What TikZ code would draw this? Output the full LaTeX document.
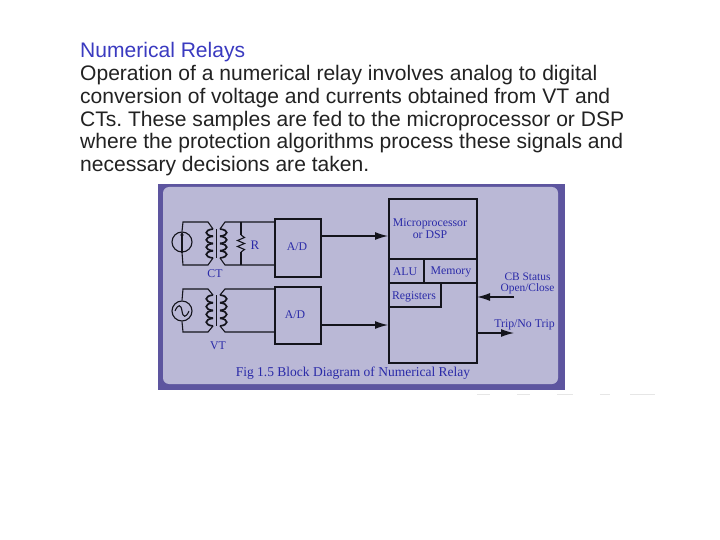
\documentclass[tikz,border=0pt]{standalone}
\usepackage{fontspec}
\setmainfont{Liberation Serif}
\newfontfamily\hsans{Liberation Sans}
\usetikzlibrary{arrows.meta,calc}
\definecolor{panelout}{HTML}{5D559F}
\definecolor{panelin}{HTML}{BAB8D6}
\definecolor{inktext}{HTML}{2A2AA8}
\definecolor{bodytext}{HTML}{222222}
\definecolor{headtext}{HTML}{3A3AC0}
\definecolor{wire}{HTML}{14141C}
\definecolor{faintmark}{HTML}{E6E6E6}
\frenchspacing
\tikzset{
  x=1pt,y=-1pt,
  bodyline/.style={anchor=base west,inner sep=0pt,text=bodytext,font=\hsans\fontsize{21.05}{22}\selectfont},
  headline/.style={anchor=base west,inner sep=0pt,text=headtext,font=\hsans\fontsize{21.05}{22}\selectfont},
  lab/.style={inner sep=0pt,text=inktext,font=\fontsize{11.8}{11.8}\selectfont,align=center},
  blockbox/.style={draw=wire,line width=1.8pt,anchor=north west,inner sep=0pt},
  wireline/.style={draw=wire,line width=1.1pt},
  sig/.style={draw=wire,line width=1.2pt,-{Latex[length=13pt,width=8pt]}},
  coil/.style={draw=wire,line width=1.7pt},
  src/.style={circle,draw=wire,line width=1.1pt,minimum size=20pt,inner sep=0pt},
}
\newcommand{\boxat}[5]{\node[blockbox,minimum width=#4pt,minimum height=#5pt] (#1) at (#2,#3) {};}
\begin{document}
\begin{tikzpicture}
\useasboundingbox (0,0) rectangle (720,540);
\fill[white] (0,0) rectangle (720,540);
% text
\node[headline] (title) at (80,57.5) {Numerical Relays};
\node[bodyline] (l1) at (80,81) {Operation of a numerical relay involves analog to digital};
\node[bodyline] (l2) at (80,104) {conversion of voltage and currents obtained from VT and};
\node[bodyline] (l3) at (80,126.5) {CTs. These samples are fed to the microprocessor or DSP};
\node[bodyline] (l4) at (80,149) {where the protection algorithms process these signals and};
\node[bodyline] (l5) at (80,171.5) {necessary decisions are taken.};
% panel
\fill[panelout] (158,184) rectangle (565,389.5);
\fill[panelin,rounded corners=6pt] (163,187) rectangle (558,384);
% faint marks under the panel
\draw[faintmark,line width=1pt] (477,394) -- (490,394) (517,394) -- (530,394) (557,394) -- (573,394) (600,394) -- (610,394) (630,394) -- (655,394);
% blocks
\boxat{ad1}{274}{218}{46}{58}
\boxat{ad2}{274}{286}{46}{57}
\boxat{mp}{388}{198}{88}{164}
\node[lab] at (297,247) {A/D};
\node[lab] at (295,315) {A/D};
\draw[wire,line width=1.4pt] (388,259) -- (476,259) (388,283) -- (476,283) (424,259) -- (424,283)
  (441,283) -- (441,307) -- (388,307);
\node[lab] (mptext) at (430,228.5) {Microprocessor\\or DSP};
\node[lab] (alu) at (405,271.5) {ALU};
\node[lab] (mem) at (451,271.5) {Memory};
\node[lab] (reg) at (414,296.5) {Registers};
% outer signals
\coordinate (cbin) at (514,297);
\coordinate (cbout) at (477,297);
\coordinate (tripout) at (514,333);
\coordinate (tripin) at (476,333);
\draw[sig] (cbin) -- (cbout);
\draw[sig] (tripin) -- (tripout);
\draw[sig] (ad1.east |- 0,236) -- (388,236);
\draw[sig] (ad2.east |- 0,325) -- (388,325);
\node[lab,font=\fontsize{11.4}{10.5}\selectfont] (cb) at (527.5,283.5) {CB Status\\Open/Close};
\node[lab] (trip) at (524.5,324.5) {Trip/No Trip};
\node[lab,font=\fontsize{13.5}{14}\selectfont] (fig) at (353,373) {Fig 1.5 Block Diagram of Numerical Relay};
% CT
\node[src] (s1) at (182,242) {};
\draw[wire,line width=1.2pt,-{Latex[length=4pt,width=4pt]}] (s1.south) -- (s1.north);
\draw[wireline] (s1.north) -- (183,222) -- (208,222) -- (213,229);
\draw[wireline] (s1.south) -- (183,265) -- (208,265) -- (213,258);
\draw[wireline] (274,222) -- (225,222) -- (220,229);
\draw[wireline] (274,265) -- (225,265) -- (220,258);
\draw[wireline] (241,222) -- (241,235);
\draw[wireline] (241,252) -- (241,265);
\draw[wire,line width=1.1pt] (241,235) -- (244.5,237.5) -- (237.5,240.5) -- (244.5,243.5) -- (237.5,246.5) -- (244.5,249.5) -- (241,252);
\node[lab,font=\fontsize{13}{13}\selectfont] (rlab) at (255,245) {R};
\node[lab] (ctlab) at (215,273.5) {CT};
\foreach \yy in {229,236.25,243.5,250.75}{
  \draw[coil] (213,\yy) .. controls (204,\yy+1) and (204,\yy+6.25) .. (213,\yy+7.25);
  \draw[coil] (220,\yy) .. controls (229,\yy+1) and (229,\yy+6.25) .. (220,\yy+7.25);
}
\draw[wire,line width=1.3pt] (216.5,229) -- (216.5,258);
% VT
\node[src] (s2) at (182,311) {};
\draw[wire,line width=1.1pt] (175,311) .. controls (178,304) and (181,304) .. (182,311) .. controls (183,318) and (186,318) .. (189,311);
\draw[wireline] (s2.north) -- (183,289) -- (208,289) -- (213,295);
\draw[wireline] (s2.south) -- (183,332) -- (208,332) -- (213,326);
\draw[wireline] (274,289) -- (225,289) -- (220,295);
\draw[wireline] (274,332) -- (225,332) -- (220,326);
\node[lab] (vtlab) at (218,346) {VT};
\foreach \yy in {295,302.75,310.5,318.25}{
  \draw[coil] (213,\yy) .. controls (204,\yy+1) and (204,\yy+6.75) .. (213,\yy+7.75);
  \draw[coil] (220,\yy) .. controls (229,\yy+1) and (229,\yy+6.75) .. (220,\yy+7.75);
}
\draw[wire,line width=1.3pt] (216.5,295) -- (216.5,326);
\end{tikzpicture}
\end{document}
